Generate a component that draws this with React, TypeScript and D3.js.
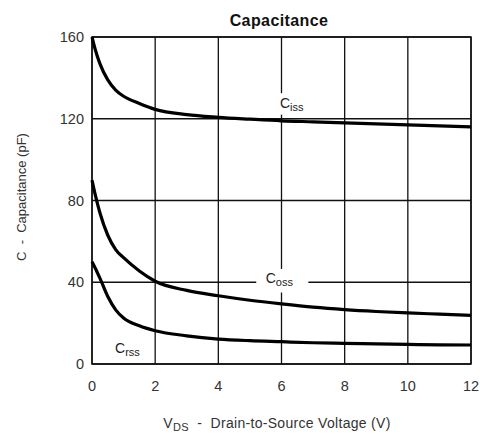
import * as d3 from 'd3';

// V_DS sample points (V) and read-off capacitances (pF)
const vds = [0, 0.1, 0.25, 0.5, 0.75, 1, 1.5, 2, 3, 4, 5, 6, 7, 8, 9, 10, 11, 12];
const ciss = [160, 154, 147, 139, 134, 131, 127.5, 124.6, 122, 120.7, 119.8, 119, 118.5, 118, 117.5, 117, 116.5, 116];
const coss = [90, 83, 74, 63, 56, 52, 45.5, 40.5, 36, 33.4, 31.2, 29.4, 27.8, 26.6, 25.7, 25, 24.4, 23.8];
const crss = [50, 47, 42, 33, 26.5, 22.5, 18.7, 16.3, 13.8, 12.2, 11.4, 10.9, 10.4, 10.1, 9.8, 9.6, 9.4, 9.3];

const xTicks = [0, 2, 4, 6, 8, 10, 12];
const yTicks = [0, 40, 80, 120, 160];

const W = 480;
const H = 434;
const margin = { top: 37, right: 9, bottom: 70, left: 92 };
const font = 'Liberation Sans, Arial, sans-serif';

export default function App() {
  const x = d3.scaleLinear().domain([0, 12]).range([margin.left, W - margin.right]);
  const y = d3.scaleLinear().domain([0, 160]).range([H - margin.bottom, margin.top]);

  const line = d3
    .line<number>()
    .x((_, i) => x(vds[i]))
    .y((d) => y(d))
    .curve(d3.curveMonotoneX);

  const series = [ciss, coss, crss];

  return (
    <svg
      width={W}
      height={H}
      style={{ position: 'absolute', left: 0, top: 0, background: '#fff' }}
      fontFamily={font}
    >
      <text x={279} y={26} textAnchor="middle" fontSize={16} fontWeight="bold" fill="#111" letterSpacing={0.4}>
        Capacitance
      </text>

      {/* grid */}
      {xTicks.map((t) => (
        <line key={'gx' + t} x1={x(t)} x2={x(t)} y1={y(0)} y2={y(160)} stroke="#111" strokeWidth={1.3} />
      ))}
      {yTicks.map((t) => (
        <line key={'gy' + t} x1={x(0)} x2={x(12)} y1={y(t)} y2={y(t)} stroke="#111" strokeWidth={1.3} />
      ))}

      {/* label knock-outs */}
      <rect x={x(5.6)} y={y(132.5)} width={x(6.6) - x(5.6)} height={y(122) - y(132.5)} fill="#fff" />
      <rect x={x(5.2)} y={y(46.5)} width={x(6.85) - x(5.2)} height={y(35) - y(46.5)} fill="#fff" />

      {/* frame */}
      <rect x={x(0)} y={y(160)} width={x(12) - x(0)} height={y(0) - y(160)} fill="none" stroke="#111" strokeWidth={1.5} />

      {/* curves */}
      {series.map((s, i) => (
        <path key={i} d={line(s) ?? ''} fill="none" stroke="#000" strokeWidth={3.2} strokeLinejoin="round" />
      ))}

      {/* curve labels */}
      <text x={x(5.95)} y={y(125.3)} fontSize={14} fill="#222">
        C<tspan fontSize={11} dy={3}>iss</tspan>
      </text>
      <text x={x(5.5)} y={y(39.6)} fontSize={14} fill="#222">
        C<tspan fontSize={11} dy={3}>oss</tspan>
      </text>
      <text x={x(0.73)} y={y(5.4)} fontSize={14} fill="#222">
        C<tspan fontSize={11} dy={3}>rss</tspan>
      </text>

      {/* y tick labels */}
      {yTicks.map((t) => (
        <text key={'yl' + t} x={x(0) - 8} y={y(t)} dy="0.35em" textAnchor="end" fontSize={14.5} fill="#333">
          {t}
        </text>
      ))}
      {/* x tick labels */}
      {xTicks.map((t) => (
        <text key={'xl' + t} x={x(t)} y={y(0) + 22} dy="0.35em" textAnchor="middle" fontSize={14.5} fill="#333">
          {t}
        </text>
      ))}

      {/* axis titles */}
      <text
        transform={`translate(26,197) rotate(-90)`}
        textAnchor="middle"
        fontSize={13}
        fill="#333"
        xmlSpace="preserve"
      >
        {'C  -  Capacitance (pF)'}
      </text>
      <text x={277} y={428} textAnchor="middle" fontSize={14} fill="#333" xmlSpace="preserve" letterSpacing={0.3}>
        V<tspan fontSize={11} dy={3}>DS</tspan>
        <tspan dy={-3}>{'  -  Drain-to-Source Voltage (V)'}</tspan>
      </text>
    </svg>
  );
}
